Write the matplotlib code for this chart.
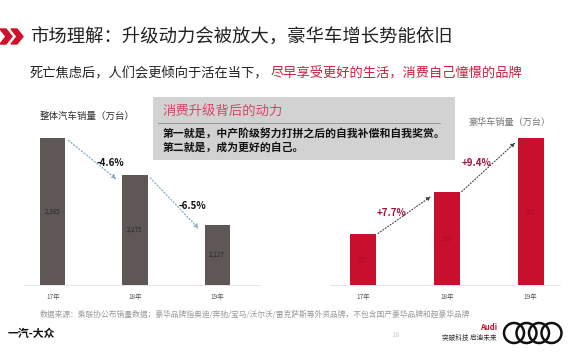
import matplotlib.pyplot as plt
from matplotlib.patches import Polygon, Rectangle, Ellipse
import numpy as np

plt.rcParams['font.family'] = ['Noto Sans CJK SC', 'DejaVu Sans']

# data
years = ["17年", "18年", "19年"]
total_sales = [2385, 2275, 2127]          # 整体汽车销量（万台）
total_labels = ["2,385", "2,275", "2,127"]
total_growth = ["-4.6%", "-6.5%"]
lux_sales = [255, 275, 301]               # 豪华车销量（万台）
lux_growth = ["+7.7%", "+9.4%"]

W, H = 570, 360
fig = plt.figure(figsize=(W / 100, H / 100), dpi=100)
fig.patch.set_facecolor("white")


def fx(x):
    return x / W


def fy(y):
    return 1 - y / H


def ftext(x, y, s, **kw):
    fig.text(fx(x), fy(y), s, **kw)


# header
for x0 in (0, 11):
    pts = [(x0, 29), (x0 + 6, 29), (x0 + 12, 36.5), (x0 + 6, 44), (x0, 44), (x0 + 6, 36.5)]
    fig.patches.append(Polygon([(fx(a), fy(b)) for a, b in pts], closed=True,
                               transform=fig.transFigure, color="#d0102a"))
ftext(30, 37.5, "市场理解：升级动力会被放大，豪华车增长势能依旧", fontsize=13.2,
      color="#222222", va="center")
ftext(30, 74, "死亡焦虑后，人们会更倾向于活在当下，", fontsize=9.5, color="#222222", va="center")
ftext(271, 74, "尽早享受更好的生活，消费自己憧憬的品牌", fontsize=9.5, color="#c8203c", va="center")

# left chart
axl = fig.add_axes([fx(25), fy(285), fx(235), 155 / H])
x = np.arange(len(years))
w = 0.305
axl.bar(x, total_sales, width=w, color="#5f5756")
axl.set_xlim(-0.341, 2.524)
axl.set_ylim(1948, 2408)
for i, v in enumerate(total_sales):
    axl.text(i, (1948 + v) / 2, total_labels[i], ha="center", va="center",
             fontsize=4.5, color="#2a2a2a")
for i in range(2):
    y0, y1 = total_sales[i], total_sales[i + 1]
    axl.annotate("", xy=(i + 1 - 0.2, y1 - 18), xytext=(i + w / 2 + 0.01, y0 - 3),
                 arrowprops=dict(arrowstyle="-|>", linestyle=":", color="#7fb0c8",
                                 lw=0.9, mutation_scale=6))
    axl.text(i + 0.7, (y0 + y1) / 2 + (2310 - 2330 if i == 0 else 2182 - 2201),
             total_growth[i], ha="center", va="center", fontsize=7,
             fontweight="bold", color="#111111")

# right chart
axr = fig.add_axes([fx(330), fy(285), fx(230), 155 / H])
axr.bar(x, lux_sales, width=0.31, color="#c8102e")
axr.set_xlim(-0.39, 2.35)
axr.set_ylim(230.5, 305)
for i, v in enumerate(lux_sales):
    axr.text(i, (230.5 + v) / 2, str(v), ha="center", va="center",
             fontsize=4.5, color="#a80a28")
lux_label_pos = [(0.34, 265.3), (1.36, 289.3)]
for i in range(2):
    y0, y1 = lux_sales[i], lux_sales[i + 1]
    axr.annotate("", xy=(i + 1 - 0.16, y1 - 1.2), xytext=(i + 0.155, y0 - 0.5),
                 arrowprops=dict(arrowstyle="-|>", linestyle=":", color="#444444",
                                 lw=0.8, mutation_scale=6))
    axr.text(*lux_label_pos[i], lux_growth[i], ha="center", va="center", fontsize=7,
             fontweight="bold", color="#a0143c")

for ax in (axl, axr):
    ax.set_facecolor("none")
    for s in ("top", "right", "left"):
        ax.spines[s].set_visible(False)
    ax.spines["bottom"].set_color("#e2e2e2")
    ax.spines["bottom"].set_linewidth(0.6)
    ax.set_yticks([])
    ax.set_xticks(x)
    ax.set_xticklabels(years, fontsize=4.6, color="#555555")
    ax.tick_params(axis="x", length=0, pad=6)

ftext(40, 116, "整体汽车销量（万台）", fontsize=6.8, color="#333333", va="center")
ftext(468, 122, "豪华车销量（万台）", fontsize=6.6, color="#777777", va="center")

# gray callout box
fig.patches.append(Rectangle((fx(153), fy(160)), fx(302), 63 / H, transform=fig.transFigure,
                             facecolor="#d2d2d2", edgecolor="none", zorder=3))
ftext(163, 112, "消费升级背后的动力", fontsize=9.6, color="#d24a68", va="center", zorder=4)
fig.lines.append(plt.Line2D([fx(158), fx(440)], [fy(123), fy(123)], transform=fig.transFigure,
                            color="#8a8a8a", lw=0.6, zorder=4))
ftext(163, 133.5, "第一就是，中产阶级努力打拼之后的自我补偿和自我奖赏。", fontsize=7.8,
      fontweight="bold", color="#111111", va="center", zorder=4)
ftext(163, 147.5, "第二就是，成为更好的自己。", fontsize=7.8,
      fontweight="bold", color="#111111", va="center", zorder=4)

# footer
ftext(40, 315, "数据来源：乘联协公布销量数据；豪华品牌指奥迪/奔驰/宝马/沃尔沃/雷克萨斯等外资品牌，不包含国产豪华品牌和超豪华品牌",
      fontsize=5.6, color="#9a9a9a", va="center")
ftext(8, 334, "一汽-大众", fontsize=7.8, fontweight="bold", color="#111111", va="center")
ftext(391, 335, "18", fontsize=5.5, color="#cccccc", va="center")
ftext(497, 327, "Audi", fontsize=5.5, fontweight="bold", color="#c8102e", va="center", ha="right")
ftext(497, 338, "突破科技 启迪未来", fontsize=4.8, color="#333333", va="center", ha="right")
r = 10
for cx in (514, 526.5, 539, 551.5):
    fig.patches.append(Ellipse((fx(cx), fy(333)), 2 * r / W, 2 * r / H, transform=fig.transFigure,
                               fill=False, edgecolor="#111111", lw=1.8))

fig.savefig("out.png", dpi=100)
